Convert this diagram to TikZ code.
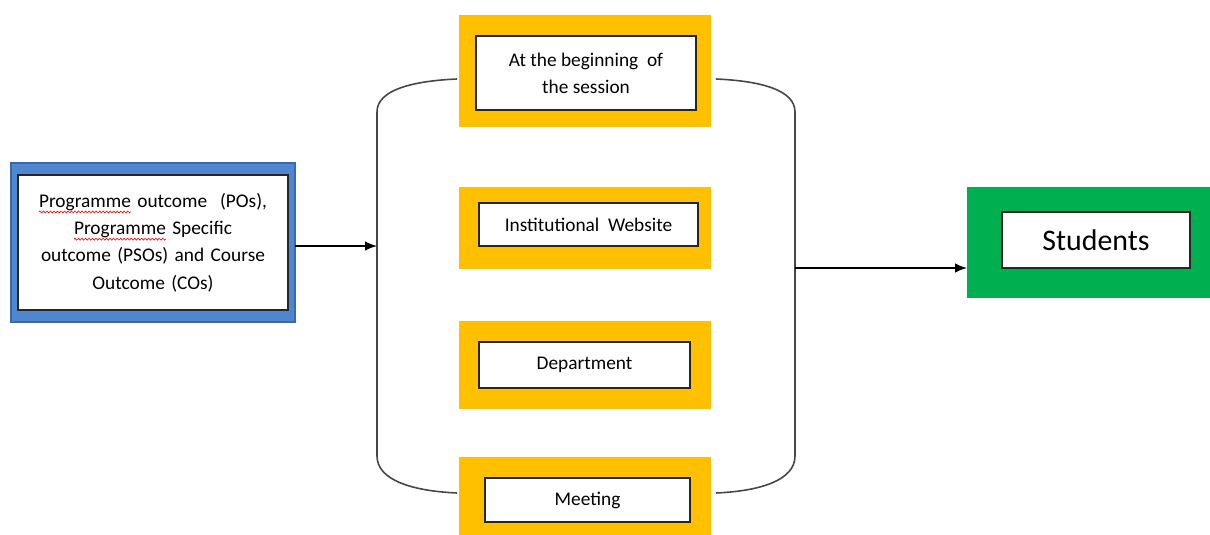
\documentclass[tikz,border=0pt]{standalone}
\usepackage{fontspec}
\setmainfont{Carlito}
\usepackage{tikz}
\usetikzlibrary{
	arrows.meta,
	calc,
	decorations.pathmorphing,
	positioning
}
\definecolor{poBlue}{RGB}{79,134,208}
\definecolor{poBlueEdge}{RGB}{58,104,170}
\definecolor{chYellow}{RGB}{255,192,0}
\definecolor{stGreen}{RGB}{0,176,80}
\definecolor{brGray}{RGB}{70,70,70}
\newlength{\spellWidth}
\newcommand{\spellwave}[1]{\leavevmode\settowidth{\spellWidth}{#1}\rlap{\tikz[baseline=0pt]{\useasboundingbox (0pt,0pt); \draw[red,line width=0.35pt,decorate,decoration={zigzag,amplitude=0.55pt,segment length=2pt}] (0pt,-2.6pt) -- (\spellWidth,-2.6pt);}}#1}
\tikzset{every path/.append style={line width=0.5pt}}
\tikzset{
	frame/.style={rectangle,inner sep=0pt,outer sep=0pt},
	card/.style={rectangle,draw=black!85,line width=1.1pt,fill=white,inner sep=0pt,outer sep=0pt,align=center,font=\fontsize{11pt}{15.5pt}\selectfont},
	bracket/.style={draw=brGray,line width=0.9pt},
	link/.style={-{Latex[length=2.4mm,width=1.9mm]},line width=0.8pt}
}
\newcommand{\tikzFrame}[4][]{\node (#3) at #2 [frame,#1,minimum width=#4] {};}

\begin{document}
\begin{tikzpicture}[x=0.2mm,y=-0.2mm]
	\useasboundingbox (0,0) rectangle (1210,535);

	\node (poFrame) at (153,242.5) [frame,fill=poBlue,draw=poBlueEdge,line width=0.6pt,minimum width=56.8mm,minimum height=31.8mm] {};
	\node (po) at (153,242.5) [card,minimum width=54mm,minimum height=27mm,text width=52mm]
		{\spellwave{Programme} outcome\ \ (POs),\\ \spellwave{Programme} Specific\\ outcome (PSOs) and Course\\ Outcome (COs)};

	\tikzFrame[fill=chYellow,minimum height=22.4mm]{(585,71)}{beginFrame}{50.4mm}
	\tikzFrame[fill=chYellow,minimum height=16.4mm]{(585,228)}{webFrame}{50.4mm}
	\tikzFrame[fill=chYellow,minimum height=17.6mm]{(585,365)}{deptFrame}{50.4mm}
	\tikzFrame[fill=chYellow,minimum height=15.6mm]{(585,496)}{meetFrame}{50.4mm}

	\node (begin) at (586,73) [card,minimum width=44mm,minimum height=14.8mm] {At the beginning\ \ of\\the session};
	\node (web) at (588.5,224.5) [card,minimum width=43.8mm,minimum height=8.6mm] {Institutional\ \ Website};
	\node (dept) at (584.5,365) [card,minimum width=42.2mm,minimum height=9.2mm] {Department};
	\node (meet) at (587.5,500) [card,minimum width=41mm,minimum height=8.8mm] {Meeting};

	\tikzFrame[fill=stGreen,minimum height=22.2mm]{(1088.5,242.5)}{studFrame}{48.6mm}
	\node (stud) at (1096,240) [card,minimum width=37.6mm,minimum height=11.2mm,font=\fontsize{17pt}{20pt}\selectfont] {Students};

	\draw[bracket] (457,79) .. controls (412,81) and (377,90) .. (377,112) -- (377,456) .. controls (377,480) and (412,491) .. (457,493);
	\draw[bracket] (716,79) .. controls (761,81) and (795,90) .. (795,112) -- (795,456) .. controls (795,480) and (761,491) .. (716,493);

	\coordinate (brL) at (377,246);
	\coordinate (brR) at (795,268);
	\draw[link] (poFrame.east |- brL) -- (brL);
	\draw[link] (brR) -- (studFrame.west |- brR);
\end{tikzpicture}
\end{document}
